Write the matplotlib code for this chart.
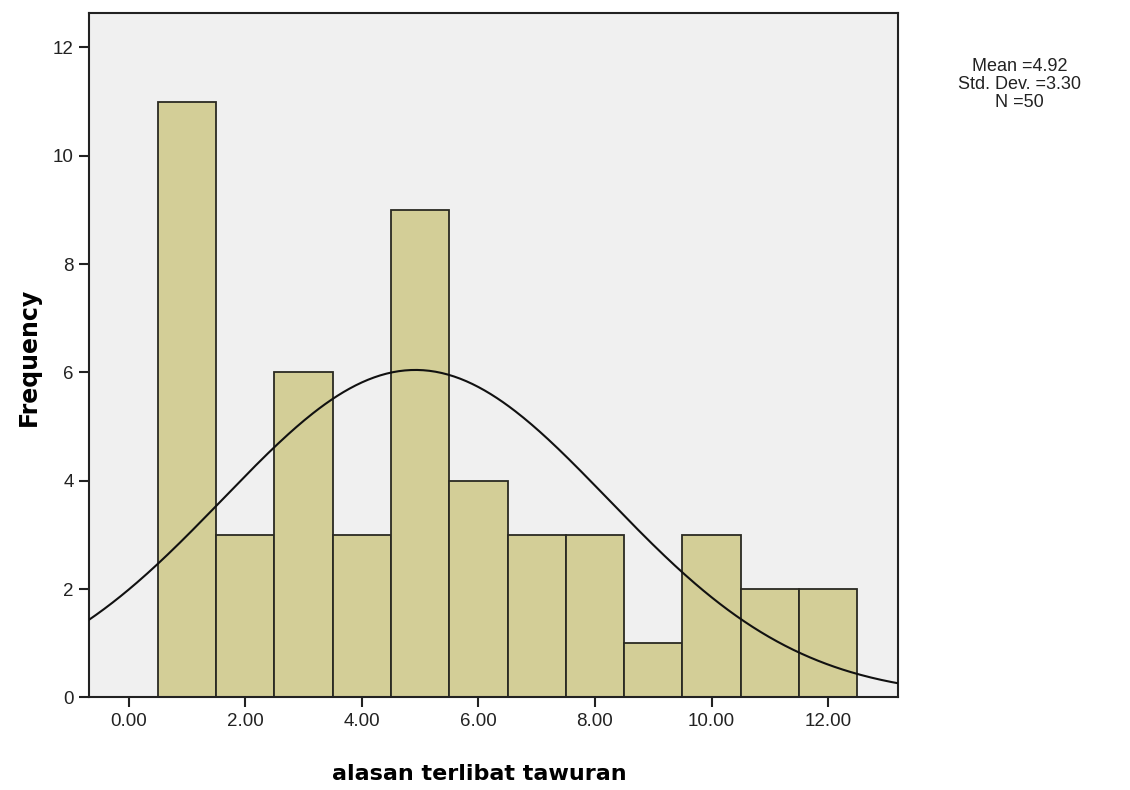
import matplotlib
matplotlib.use("Agg")
import matplotlib.pyplot as plt
import numpy as np

plt.rcParams["font.family"] = ["Liberation Sans", "DejaVu Sans"]

# Dados do histograma (centros das classes e frequências)
centros = [1, 2, 3, 4, 5, 6, 7, 8, 9, 10, 11, 12]
frequencias = [11, 3, 6, 3, 9, 4, 3, 3, 1, 3, 2, 2]
media = 4.92
desvio = 3.30
n = 50
x_ticks = [0, 2, 4, 6, 8, 10, 12]
x_labels = ["0.00", "2.00", "4.00", "6.00", "8.00", "10.00", "12.00"]
y_ticks = [0, 2, 4, 6, 8, 10, 12]

fig = plt.figure(figsize=(11.3, 7.9), dpi=100)
ax = fig.add_axes([0.0788, 0.1173, 0.7159, 0.8659])
ax.set_facecolor("#F0F0F0")

ax.bar(centros, frequencias, width=1.0, color="#D3CE97",
       edgecolor="#2A2A22", linewidth=1.3, zorder=2)

# Curva normal ajustada
xs = np.linspace(-0.7, 13.3, 400)
ys = n * 1.0 / (desvio * np.sqrt(2 * np.pi)) * np.exp(-0.5 * ((xs - media) / desvio) ** 2)
ax.plot(xs, ys, color="#111111", linewidth=1.5, zorder=3)

ax.set_xlim(-0.68, 13.2)
ax.set_ylim(0, 12.63)
ax.set_xticks(x_ticks)
ax.set_xticklabels(x_labels)
ax.set_yticks(y_ticks)
ax.tick_params(axis="both", direction="out", length=7, width=1.5,
               labelsize=13.5, colors="#222222", pad=4)

for s in ax.spines.values():
    s.set_linewidth(1.5)
    s.set_color("#222222")

ax.set_xlabel("alasan terlibat tawuran", fontsize=16, fontweight="bold",
              family="DejaVu Sans")
ax.xaxis.set_label_coords(0.483, -0.098)
ax.set_ylabel("Frequency", fontsize=17, fontweight="bold",
              family="DejaVu Sans")
ax.yaxis.set_label_coords(-0.06, 0.497)

fig.text(0.902, 0.893, f"Mean ={media:.2f}\nStd. Dev. ={desvio:.2f}\nN ={n}",
         ha="center", va="center", fontsize=13, linespacing=1.05, color="#222222")

fig.savefig("out.png", dpi=100)
plt.close(fig)
